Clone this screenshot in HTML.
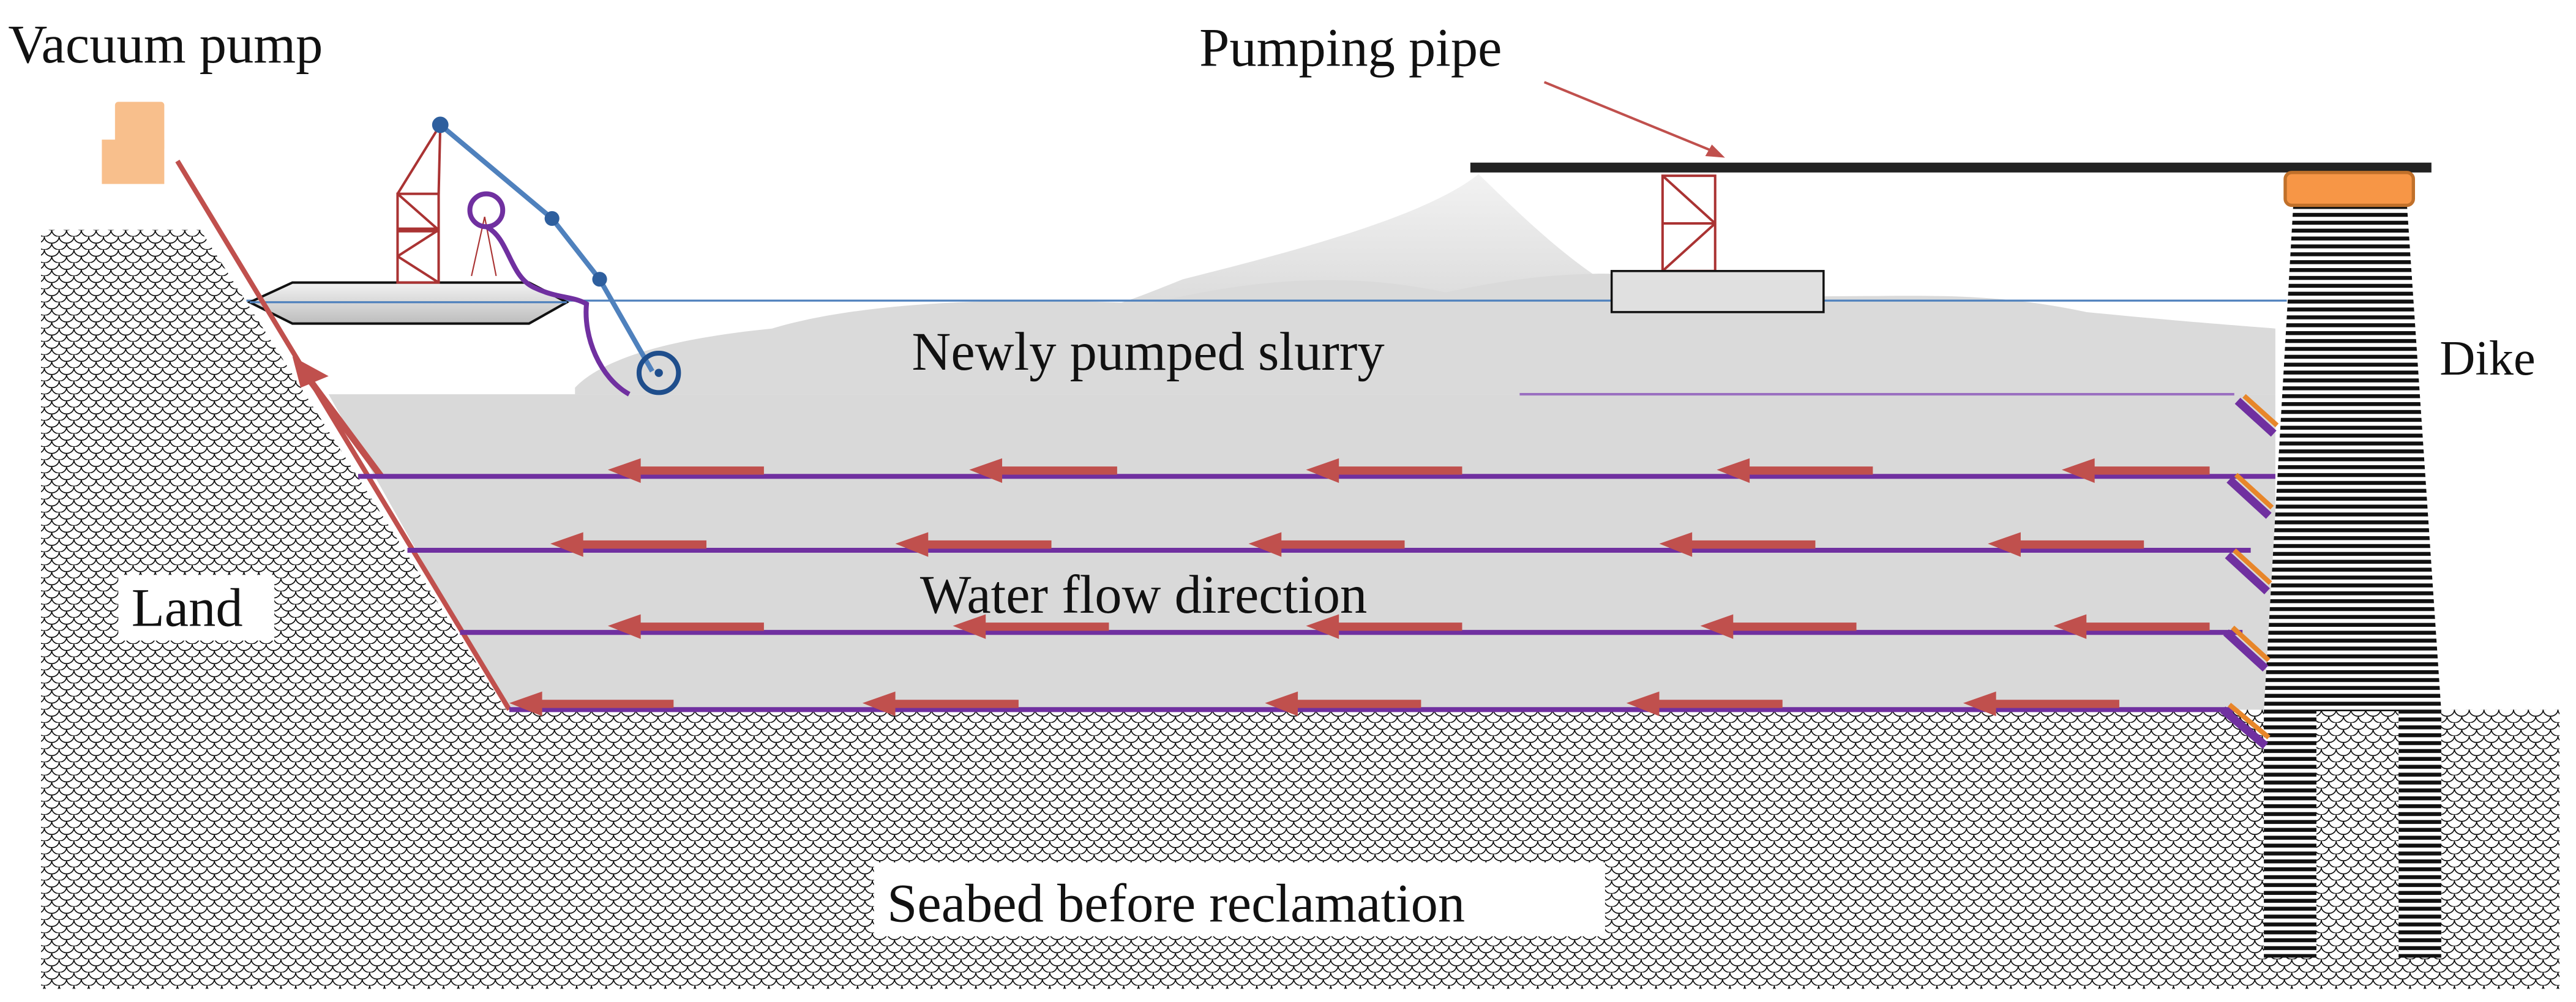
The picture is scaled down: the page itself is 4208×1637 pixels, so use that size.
<!DOCTYPE html>
<html><head><meta charset="utf-8"><style>
html,body{margin:0;padding:0;background:#fff;}
svg{display:block;}
text{font-family:"Liberation Serif",serif;fill:#111;}
</style></head><body>
<svg width="4208" height="1637" viewBox="0 0 1568 610" preserveAspectRatio="none" xmlns="http://www.w3.org/2000/svg">
<defs>
<pattern id="scale" width="9" height="8" patternUnits="userSpaceOnUse">
<rect width="9" height="8" fill="#fff"/>
<path d="M0 0 A4.5 4 0 0 0 9 0 M-4.5 4 A4.5 4 0 0 0 4.5 4 M4.5 4 A4.5 4 0 0 0 13.5 4 M0 8 A4.5 4 0 0 0 9 8" fill="none" stroke="#000" stroke-width="0.6"/>
</pattern>
<pattern id="stripe" width="4" height="4.8" patternUnits="userSpaceOnUse">
<rect width="4" height="4.8" fill="#fff"/>
<rect y="0" width="4" height="2.4" fill="#111"/>
</pattern>
<linearGradient id="boat" x1="0" y1="0" x2="0" y2="1"><stop offset="0" stop-color="#f2f2f2"/><stop offset="1" stop-color="#bdbdbd"/></linearGradient>
<linearGradient id="fog" x1="0" y1="0" x2="0" y2="1"><stop offset="0" stop-color="#f2f2f2"/><stop offset="1" stop-color="#dcdcdc"/></linearGradient>
</defs>

<!-- land and seabed -->
<polygon points="25,140 122,140 308,432 1558,432 1558,602 25,602" fill="url(#scale)"/>

<!-- fog under pipe -->
<path d="M900,106 C870,130 800,150 720,170 C700,178 690,182 680,185 L1000,185 C960,165 930,135 900,106 Z" fill="url(#fog)"/>
<!-- cloud slurry -->
<path d="M350,236 C370,215 420,205 470,200 C520,185 600,180 700,185 C760,170 820,165 880,178 C940,165 1000,160 1080,180 C1150,182 1200,175 1270,190 C1320,195 1360,198 1385,200 L1385,240 L350,240 Z" fill="#dadada"/>
<!-- main slurry -->
<polygon points="200,240 1385,240 1385,432 308,432" fill="#d9d9d9"/>
<!-- re-draw land over slurry edge -->
<polygon points="25,140 122,140 308,432 25,432" fill="url(#scale)"/>

<!-- water line -->
<line x1="150" y1="183" x2="1392" y2="183" stroke="#4f81bd" stroke-width="1.2"/>

<!-- boat -->
<polygon points="152,184 178,172 322,172 345,184 322,197 178,197" fill="url(#boat)" stroke="#111" stroke-width="1.5"/>
<line x1="152" y1="184" x2="345" y2="184" stroke="#4f81bd" stroke-width="1.2"/>
<!-- tower on boat -->
<g stroke="#a33" stroke-width="1.5" fill="none">
<rect x="242" y="118" width="25" height="54"/>
<line x1="242" y1="118" x2="267" y2="140"/><line x1="267" y1="140" x2="242" y2="156"/><line x1="242" y1="156" x2="267" y2="172"/>
<line x1="242" y1="140" x2="267" y2="140" stroke-width="3"/>
<line x1="242" y1="118" x2="268" y2="76"/><line x1="267" y1="118" x2="268" y2="76"/>
<line x1="287" y1="168" x2="295" y2="132" stroke-width="0.8"/><line x1="302" y1="168" x2="295" y2="132" stroke-width="0.8"/>
</g>
<!-- ladder -->
<polyline points="268,76 336,133 365,170 397,226" fill="none" stroke="#4f81bd" stroke-width="3"/>
<circle cx="268" cy="76" r="5" fill="#2e5f9e"/><circle cx="336" cy="133" r="4.5" fill="#2e5f9e"/><circle cx="365" cy="170" r="4.5" fill="#2e5f9e"/>
<circle cx="401" cy="227" r="12" fill="none" stroke="#1f4e8c" stroke-width="3"/><circle cx="401" cy="227" r="2.5" fill="#1f4e8c"/>
<!-- purple pipe -->
<circle cx="296" cy="128" r="10" fill="none" stroke="#7030a0" stroke-width="3"/>
<path d="M296,138 C310,145 310,168 325,175 C340,182 348,180 357,185 C355,205 365,230 383,240" fill="none" stroke="#7030a0" stroke-width="3"/>

<!-- vacuum pump -->
<rect x="70" y="62" width="30" height="30" fill="#f8bf8c" rx="2"/>
<rect x="62" y="85" width="38" height="27" fill="#f8bf8c"/>
<!-- red slope line -->
<line x1="108" y1="98" x2="310" y2="432" stroke="#c0504d" stroke-width="3"/>
<!-- red up arrow -->
<line x1="232" y1="290" x2="186" y2="228" stroke="#c0504d" stroke-width="4"/>
<polygon points="178,217 200,229 183,236" fill="#c0504d"/>

<!-- pipe -->
<rect x="895" y="99" width="585" height="6" fill="#222"/>
<!-- tower under pipe -->
<g stroke="#a33" stroke-width="1.5" fill="none">
<rect x="1012" y="107" width="32" height="58"/>
<line x1="1012" y1="107" x2="1044" y2="136"/><line x1="1044" y1="136" x2="1012" y2="165"/>
<line x1="1012" y1="136" x2="1044" y2="136"/>
</g>
<rect x="981" y="165" width="129" height="25" fill="#e0e0e0" stroke="#111" stroke-width="1.3"/>

<!-- dike -->
<polygon points="1396,123 1465,123 1486,433 1378,433" fill="url(#stripe)"/>
<rect x="1378" y="433" width="32" height="150" fill="url(#stripe)"/>
<rect x="1460" y="433" width="26" height="150" fill="url(#stripe)"/>
<rect x="1391" y="105" width="78" height="20" rx="4" fill="#f79646" stroke="#c0702a" stroke-width="2"/>

<!-- purple lines -->
<g stroke="#7030a0" stroke-width="3">
<line x1="925" y1="240" x2="1360" y2="240" stroke-width="1.5" stroke="#9a6fc0"/>
<line x1="218" y1="290" x2="1385" y2="290"/>
<line x1="248" y1="335" x2="1370" y2="335"/>
<line x1="280" y1="385" x2="1365" y2="385"/>
<line x1="310" y1="432" x2="1360" y2="432"/>
</g>
<!-- drains -->
<g>
<g transform="translate(1362,244)"><line x1="0" y1="0" x2="22" y2="20" stroke="#7030a0" stroke-width="5"/><line x1="4" y1="-3" x2="24" y2="15" stroke="#e8862a" stroke-width="3"/></g>
<g transform="translate(1357,292)"><line x1="0" y1="0" x2="24" y2="22" stroke="#7030a0" stroke-width="5"/><line x1="4" y1="-3" x2="26" y2="17" stroke="#e8862a" stroke-width="3"/></g>
<g transform="translate(1356,338)"><line x1="0" y1="0" x2="24" y2="22" stroke="#7030a0" stroke-width="5"/><line x1="4" y1="-3" x2="26" y2="17" stroke="#e8862a" stroke-width="3"/></g>
<g transform="translate(1355,385)"><line x1="0" y1="0" x2="24" y2="22" stroke="#7030a0" stroke-width="5"/><line x1="4" y1="-3" x2="26" y2="17" stroke="#e8862a" stroke-width="3"/></g>
<g transform="translate(1353,432)"><line x1="0" y1="0" x2="26" y2="22" stroke="#7030a0" stroke-width="5"/><line x1="4" y1="-3" x2="28" y2="17" stroke="#e8862a" stroke-width="3"/></g>
</g>

<!-- red flow arrows -->
<g fill="#c0504d">
<path d="M370,286 l20,-7 v5 h75 v5 h-75 v5 z"/>
<path d="M590,286 l20,-7 v5 h70 v5 h-70 v5 z"/>
<path d="M795,286 l20,-7 v5 h75 v5 h-75 v5 z"/>
<path d="M1045,286 l20,-7 v5 h75 v5 h-75 v5 z"/>
<path d="M1255,286 l20,-7 v5 h70 v5 h-70 v5 z"/>
<path d="M335,331 l20,-7 v5 h75 v5 h-75 v5 z"/>
<path d="M545,331 l20,-7 v5 h75 v5 h-75 v5 z"/>
<path d="M760,331 l20,-7 v5 h75 v5 h-75 v5 z"/>
<path d="M1010,331 l20,-7 v5 h75 v5 h-75 v5 z"/>
<path d="M1210,331 l20,-7 v5 h75 v5 h-75 v5 z"/>
<path d="M370,381 l20,-7 v5 h75 v5 h-75 v5 z"/>
<path d="M580,381 l20,-7 v5 h75 v5 h-75 v5 z"/>
<path d="M795,381 l20,-7 v5 h75 v5 h-75 v5 z"/>
<path d="M1035,381 l20,-7 v5 h75 v5 h-75 v5 z"/>
<path d="M1250,381 l20,-7 v5 h75 v5 h-75 v5 z"/>
<path d="M310,428 l20,-7 v5 h80 v5 h-80 v5 z"/>
<path d="M525,428 l20,-7 v5 h75 v5 h-75 v5 z"/>
<path d="M770,428 l20,-7 v5 h75 v5 h-75 v5 z"/>
<path d="M990,428 l20,-7 v5 h75 v5 h-75 v5 z"/>
<path d="M1195,428 l20,-7 v5 h75 v5 h-75 v5 z"/>
</g>

<!-- pumping pipe arrow -->
<line x1="940" y1="50" x2="1045" y2="93" stroke="#c0504d" stroke-width="1.5"/>
<polygon points="1050,96 1038,95 1042,88" fill="#c0504d"/>

<!-- labels -->
<text x="5" y="38" font-size="33">Vacuum pump</text>
<text x="730" y="40" font-size="33">Pumping pipe</text>
<text x="555" y="225" font-size="33">Newly pumped slurry</text>
<text x="1485" y="228" font-size="30">Dike</text>
<rect x="72" y="350" width="95" height="40" fill="#fff"/>
<text x="80" y="381" font-size="33">Land</text>
<text x="560" y="373" font-size="33">Water flow direction</text>
<rect x="532" y="525" width="445" height="45" fill="#fff"/>
<text x="540" y="561" font-size="33">Seabed before reclamation</text>
</svg>
</body></html>
